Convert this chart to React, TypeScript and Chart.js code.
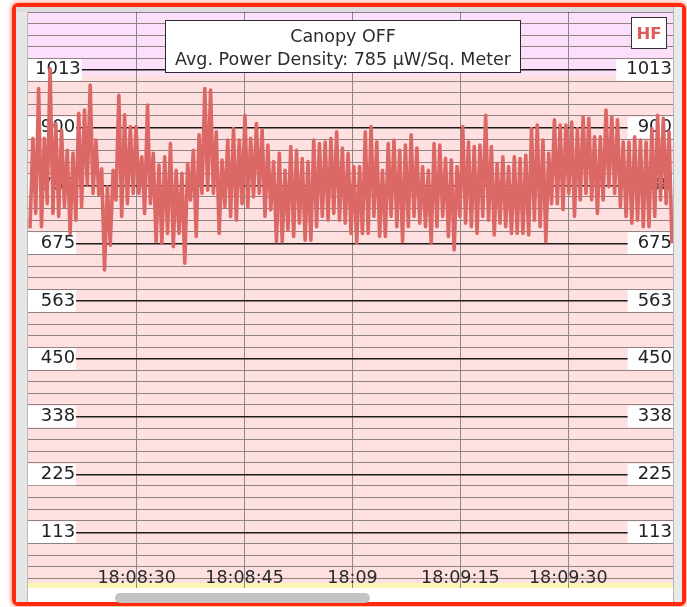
import React, { useEffect, useRef } from "react";
import { Chart, registerables } from "chart.js";

Chart.register(...registerables);

// ---- text ----
const titleLine1 = "Canopy OFF";
const titleLine2 = "Avg. Power Density: 785 µW/Sq. Meter";
const badgeText = "HF";

// ---- axes ----
const yMin = 0;
const yMax = 1125;
const yMinorStep = 22.5;
const yMajorStep = 112.5;
const xMinSec = 14.89; // seconds after 18:08:00
const xMaxSec = 104.56;
const xTickStepSec = 15;
const baseHour = 18;
const baseMinute = 8;

// ---- samples (µW/m²), one every sampleIntervalSec starting at sampleStartSec ----
const sampleStartSec = 15.17;
const sampleIntervalSec = 0.3984;

const segment1 = [
  704, 879, 733, 976, 707, 879, 752, 1015, 733, 908,
  727, 895, 746, 856, 694, 850, 720, 928, 746, 934,
  790, 983, 772, 876, 770, 820, 623, 785, 671, 817,
  759, 963, 727, 925, 752, 902, 772, 902, 772, 843,
  733, 944, 752, 850, 678, 827, 675, 843, 694, 869,
  668, 817, 694, 811, 636, 830,
];
const segment2 = [
  759, 856, 688, 886, 772, 976, 778, 973, 772, 892,
  694, 837, 746, 876, 727, 898, 720, 876, 752, 924,
  746, 879, 765, 908, 772, 895, 727, 866, 740, 834,
  678, 850, 678, 817, 701, 863, 688, 856, 714, 840,
  681, 834, 681, 876, 707, 869, 727, 872, 720, 879,
  733, 892, 720, 860, 714, 850,
];
const segment3 = [
  694, 824, 675, 824, 694, 892, 694, 902, 727, 872,
  688, 817, 688, 869, 727, 876, 707, 856, 678, 866,
  707, 886, 727, 860, 714, 824, 707, 817, 675, 869,
  707, 866, 727, 840, 688, 837, 662, 824, 727, 902,
  714, 872, 707, 863, 694, 866, 727, 924, 720, 863,
  691, 830, 714, 843, 707, 824,
];
const segment4 = [
  694, 843, 694, 840, 694, 846, 691, 898, 720, 905,
  707, 876, 678, 850, 752, 915, 752, 905, 740, 905,
  772, 911, 727, 898, 759, 921, 772, 918, 759, 882,
  733, 882, 759, 934, 785, 921, 772, 915, 746, 872,
  727, 872, 714, 882, 720, 876, 707, 872, 707, 898,
  727, 924, 759, 918, 752, 892, 675,
];
const powerDensity = [...segment1, ...segment2, ...segment3, ...segment4];

// ---- background bands (value ranges) ----
const bandLimits = [0, 13.6, 1002, 1125];
const bandColors = ["#fbf6b2", "#ffe0e0", "#fce0fb"];

const FONT = "'DejaVu Sans', 'Liberation Sans', sans-serif";

function isMajor(v: number) {
  const r = v / yMajorStep;
  return Math.abs(r - Math.round(r)) < 1e-6;
}
function yLabel(v: number) {
  if (!isMajor(v) || v <= yMin || v >= yMax) return "";
  return String(Math.round(v));
}
function timeLabel(v: number) {
  const total = baseMinute * 60 + Math.round(v);
  const m = Math.floor(total / 60);
  const s = total % 60;
  const mm = String(m).padStart(2, "0");
  if (s === 0) return `${baseHour}:${mm}`;
  return `${baseHour}:${mm}:${String(s).padStart(2, "0")}`;
}

const bandPlugin = {
  id: "bands",
  beforeDraw(chart: any) {
    const { ctx, chartArea: a, scales } = chart;
    const y = scales.y;
    ctx.save();
    for (let i = 0; i < bandColors.length; i++) {
      const top = y.getPixelForValue(bandLimits[i + 1]);
      const bottom = y.getPixelForValue(bandLimits[i]);
      ctx.fillStyle = bandColors[i];
      ctx.fillRect(a.left, top, a.right - a.left, bottom - top);
    }
    ctx.restore();
  },
};

export default function App() {
  const ref = useRef<HTMLCanvasElement>(null);

  useEffect(() => {
    const points = powerDensity.map((v, i) => ({
      x: sampleStartSec + i * sampleIntervalSec,
      y: v,
    }));
    const chart = new Chart(ref.current as HTMLCanvasElement, {
      type: "line",
      data: {
        datasets: [
          {
            data: points,
            borderColor: "#dc6866",
            borderWidth: 3.6,
            pointRadius: 0,
            borderJoinStyle: "round",
            tension: 0,
            yAxisID: "y",
          },
        ],
      },
      options: {
        animation: false,
        responsive: false,
        devicePixelRatio: 1,
        events: [],
        layout: { padding: 0 },
        plugins: {
          legend: { display: false },
          tooltip: { enabled: false },
        },
        scales: {
          x: {
            type: "linear",
            position: "bottom",
            min: xMinSec,
            max: xMaxSec,
            border: { display: false },
            grid: { color: "#8a8a8a", lineWidth: 1, drawTicks: false },
            ticks: {
              stepSize: xTickStepSec,
              includeBounds: false,
              autoSkip: false,
              maxRotation: 0,
              mirror: true,
              padding: 1,
              color: "#2a2a2a",
              font: { family: FONT, size: 17.5 },
              callback: (value: any) => {
                const v = Number(value);
                if (v < xMinSec + 3 || v > xMaxSec - 3) return null;
                return timeLabel(v);
              },
            },
            afterFit: (s: any) => {
              s.height = 0;
              s.paddingLeft = 0;
              s.paddingRight = 0;
            },
          },
          y: {
            type: "linear",
            position: "left",
            min: yMin,
            max: yMax,
            border: { display: false },
            grid: {
              drawTicks: false,
              color: (c: any) => (c.tick && isMajor(c.tick.value) ? "#1c1c1c" : "#8e8282"),
              lineWidth: (c: any) => (c.tick && isMajor(c.tick.value) ? 1.4 : 1.1),
            },
            ticks: {
              stepSize: yMinorStep,
              autoSkip: false,
              mirror: true,
              crossAlign: "center",
              padding: 7,
              color: "#222",
              font: { family: FONT, size: 18 },
              callback: (value: any) => yLabel(Number(value)),
              showLabelBackdrop: true,
              backdropColor: (c: any) =>
                c.tick && yLabel(c.tick.value) ? "#ffffff" : "rgba(0,0,0,0)",
              backdropPadding: { top: 0, bottom: 0, left: 14, right: 1 },
            },
            afterFit: (s: any) => {
              s.width = 0;
              s.paddingTop = 0;
              s.paddingBottom = 0;
            },
          },
          y2: {
            type: "linear",
            position: "right",
            min: yMin,
            max: yMax,
            border: { display: false },
            grid: { display: false, drawTicks: false },
            ticks: {
              stepSize: yMinorStep,
              autoSkip: false,
              mirror: true,
              crossAlign: "near",
              padding: -1,
              color: "#222",
              font: { family: FONT, size: 18 },
              callback: (value: any) => yLabel(Number(value)),
              showLabelBackdrop: true,
              backdropColor: (c: any) =>
                c.tick && yLabel(c.tick.value) ? "#ffffff" : "rgba(0,0,0,0)",
              backdropPadding: { top: 0, bottom: 0, left: 10, right: 2 },
            },
            afterFit: (s: any) => {
              s.width = 0;
              s.paddingTop = 0;
              s.paddingBottom = 0;
            },
          },
        },
      } as any,
      plugins: [bandPlugin],
    });
    return () => chart.destroy();
  }, []);

  const abs = (o: React.CSSProperties): React.CSSProperties => ({ position: "absolute", ...o });

  return (
    <div style={abs({ left: 0, top: 0, width: 687, height: 607, background: "#fff", overflow: "hidden", fontFamily: FONT })}>
      <div
        style={abs({
          left: 12, top: 3, width: 674, height: 603, boxSizing: "border-box",
          border: "4px solid #ff2a0c", borderRadius: 6,
          boxShadow: "0 0 4px 1px rgba(255,60,30,0.55)", background: "#fff",
        })}
      />
      <div style={abs({ left: 16, top: 7, width: 12, height: 595, background: "#e6e6e6", boxSizing: "border-box", borderRight: "1px solid #b8b8b8" })} />
      <div style={abs({ left: 16, top: 7, width: 666, height: 5, background: "#dcdcdc" })} />
      <div style={abs({ left: 673, top: 7, width: 9, height: 595, background: "#e9e9e9", boxSizing: "border-box", borderLeft: "1px solid #b5b5b5" })} />
      <canvas ref={ref} width={645} height={578} style={abs({ left: 28, top: 12, width: 645, height: 578 })} />
      <div style={abs({ left: 28, top: 588, width: 645, height: 14, background: "#fff" })} />
      <div style={abs({ left: 115, top: 593, width: 255, height: 10, borderRadius: 5, background: "#c3c3c3" })} />
      <div
        style={abs({
          left: 165, top: 20, width: 356, height: 53, boxSizing: "border-box",
          border: "1.5px solid #2a2a2a", background: "#fff",
        })}
      />
      <div style={abs({ left: 165, top: 25, width: 356, textAlign: "center", fontSize: 17.5, lineHeight: "22.7px", color: "#2b2b2b", whiteSpace: "nowrap" })}>
        {titleLine1}
      </div>
      <div style={abs({ left: 165, top: 47.7, width: 356, textAlign: "center", fontSize: 17.5, lineHeight: "22.7px", color: "#2b2b2b", whiteSpace: "nowrap" })}>
        {titleLine2}
      </div>
      <div
        style={abs({
          left: 631, top: 17, width: 36, height: 32, boxSizing: "border-box",
          border: "1.5px solid #333", background: "#fff",
          display: "flex", alignItems: "center", justifyContent: "center",
          color: "#e05a5a", fontSize: 16.5, fontWeight: "bold",
        })}
      >
        {badgeText}
      </div>
    </div>
  );
}
